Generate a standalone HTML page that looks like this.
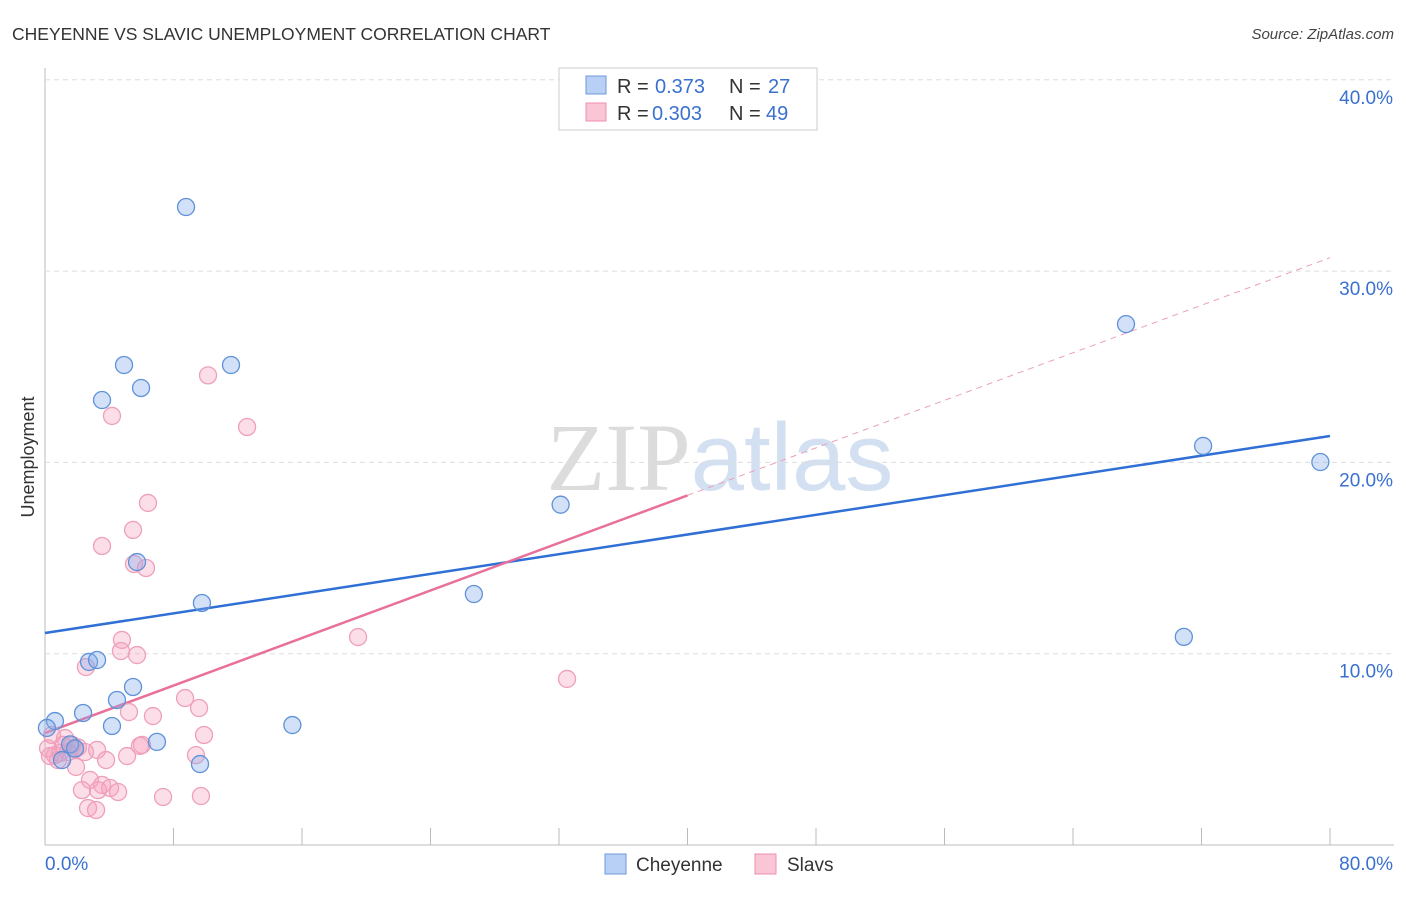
<!DOCTYPE html>
<html><head><meta charset="utf-8"><style>
body{margin:0;background:#fff;font-family:"Liberation Sans",sans-serif;}
</style></head><body>
<svg id="chart" width="1406" height="892" xmlns="http://www.w3.org/2000/svg" font-family="Liberation Sans, sans-serif">
<text x="12" y="40" font-size="17.5" fill="#333">CHEYENNE VS SLAVIC UNEMPLOYMENT CORRELATION CHART</text>
<text x="1394" y="39" font-size="15" fill="#444" font-style="italic" text-anchor="end">Source: ZipAtlas.com</text>
<text x="720" y="490" font-size="96" text-anchor="middle"><tspan fill="#dcdcdc" font-family="Liberation Serif, serif">ZIP</tspan><tspan fill="#d3e0f2">atlas</tspan></text>
<text transform="translate(34,457) rotate(-90)" font-size="18" fill="#333" text-anchor="middle">Unemployment</text>
<g id="grid"></g>
<g id="lines"></g>
<g id="pts"></g>
<g>
<rect x="559" y="68" width="258" height="62" fill="#fff" stroke="#ccc"/>
<rect x="586" y="76" width="20" height="18" fill="#b8d0f5" stroke="#6d9ad8"/>
<rect x="586" y="103" width="20" height="18" fill="#fac6d6" stroke="#ee8fb0"/>
<text x="617" y="93" font-size="20" fill="#333">R =</text>
<text x="655" y="93" font-size="20" fill="#3a70d0">0.373</text>
<text x="729" y="93" font-size="20" fill="#333">N =</text>
<text x="768" y="93" font-size="20" fill="#3a70d0">27</text>
<text x="617" y="120" font-size="20" fill="#333">R =</text>
<text x="652" y="120" font-size="20" fill="#3a70d0">0.303</text>
<text x="729" y="120" font-size="20" fill="#333">N =</text>
<text x="766" y="120" font-size="20" fill="#3a70d0">49</text>
</g>
<g>
<rect x="605" y="854" width="21" height="20" fill="#b8d0f5" stroke="#6d9ad8"/>
<text x="636" y="871" font-size="19" fill="#333">Cheyenne</text>
<rect x="755" y="854" width="21" height="20" fill="#fac6d6" stroke="#ee8fb0"/>
<text x="787" y="871" font-size="19" fill="#333">Slavs</text>
</g>
</svg>
<script>
const yTicks=[10,20,30,40];
const yTickLabels=["10.0%","20.0%","30.0%","40.0%"];
const xTickLabels=["0.0%","80.0%"];
const cheyX=[8.78,4.92,11.58,5.98,3.55,67.3,72.1,79.4,32.1,5.73,26.7,9.77,70.9,2.74,3.24,5.48,4.48,2.37,0.62,4.17,15.4,6.97,1.56,9.65,0.12,1.06,1.87];
const cheyY=[33.35,25.09,25.09,23.89,23.26,27.23,20.86,20.02,17.79,14.79,13.12,12.65,10.88,9.57,9.67,8.26,7.58,6.90,6.48,6.22,6.27,5.39,5.26,4.23,6.12,4.44,5.05];
const slavX=[10.15,4.17,12.58,6.41,5.48,3.55,5.54,6.29,4.79,19.49,4.73,5.73,2.55,32.5,8.72,9.59,5.23,6.72,9.90,0.44,1.25,1.68,3.24,0.19,0.93,6.04,5.91,9.40,5.11,3.80,1.93,2.80,3.55,2.30,4.05,4.55,3.30,2.68,3.18,7.35,9.71,0.62,1.43,0.31,1.87,0.81,1.12,2.05,2.49];
const slavY=[24.55,22.43,21.85,17.88,16.47,15.63,14.69,14.48,10.72,10.87,10.14,9.93,9.30,8.68,7.68,7.16,6.95,6.74,5.75,5.75,5.59,5.23,4.97,5.05,4.81,5.23,5.18,4.70,4.65,4.44,4.08,3.40,3.14,2.87,2.98,2.77,2.87,1.93,1.83,2.51,2.56,4.70,4.86,4.65,5.01,4.44,5.23,5.10,4.86];
const cheyLine=[11.08,21.38];
const slavLine=[5.85,30.7];
const slavSolidEnd=40;
const NS="http://www.w3.org/2000/svg";
const X=v=>45+v/80*1285, Y=v=>845-v*19.13;
function mk(t,a,p){const e=document.createElementNS(NS,t);for(const k in a)e.setAttribute(k,a[k]);p.appendChild(e);return e;}
const g=document.getElementById('grid');
const ax=mk('line',{x1:45,y1:68,x2:45,y2:845,stroke:'#bbb'},g);


const bx=mk('line',{x1:45,y1:845,x2:1394,y2:845,stroke:'#bbb'},g);


yTicks.forEach((t,i)=>{
 const l=mk('line',{x1:45,x2:1394,y1:Y(t),y2:Y(t),stroke:'#ddd','stroke-dasharray':'5,4'},g);
 
 
 const tx=mk('text',{x:1393,y:Y(t)+24,'font-size':19,fill:'#3a70d0','text-anchor':'end'},g);
 
 
 tx.textContent=yTickLabels[i];
});
for(let i=0;i<=10;i++){const t=mk('line',{x1:45+i*128.5,x2:45+i*128.5,y1:828,y2:845,stroke:'#bbb'},g);
 
 }
[[0,45,'start'],[80,1393,'end']].forEach((d,i)=>{const t=mk('text',{x:d[1],y:870,'font-size':19,fill:'#3a70d0','text-anchor':d[2]},g);
 
 
 t.textContent=xTickLabels[i];});
const L=document.getElementById('lines');
const bl=mk('line',{x1:X(0),y1:Y(cheyLine[0]),x2:X(80),y2:Y(cheyLine[1]),stroke:'#2f6fd6','stroke-width':2.5},L);


const sy=v=>slavLine[0]+(slavLine[1]-slavLine[0])*v/80;
const pl=mk('line',{x1:X(0),y1:Y(sy(0)),x2:X(slavSolidEnd),y2:Y(sy(slavSolidEnd)),stroke:'#e8709a','stroke-width':2.5},L);


const pd=mk('line',{x1:X(slavSolidEnd),y1:Y(sy(slavSolidEnd)),x2:X(80),y2:Y(sy(80)),stroke:'#eaa0b8','stroke-width':1,'stroke-dasharray':'6,5'},L);


const P=document.getElementById('pts');
slavX.forEach((x,i)=>{const c=mk('circle',{cx:X(x),cy:Y(slavY[i]),r:8.5,fill:'rgba(246,160,188,0.35)',stroke:'#eea0ba','stroke-width':1.3},P);
 
 });
cheyX.forEach((x,i)=>{const c=mk('circle',{cx:X(x),cy:Y(cheyY[i]),r:8.5,fill:'rgba(130,170,235,0.35)',stroke:'#5f92d8','stroke-width':1.3},P);
 
 });
</script>
</body></html>
